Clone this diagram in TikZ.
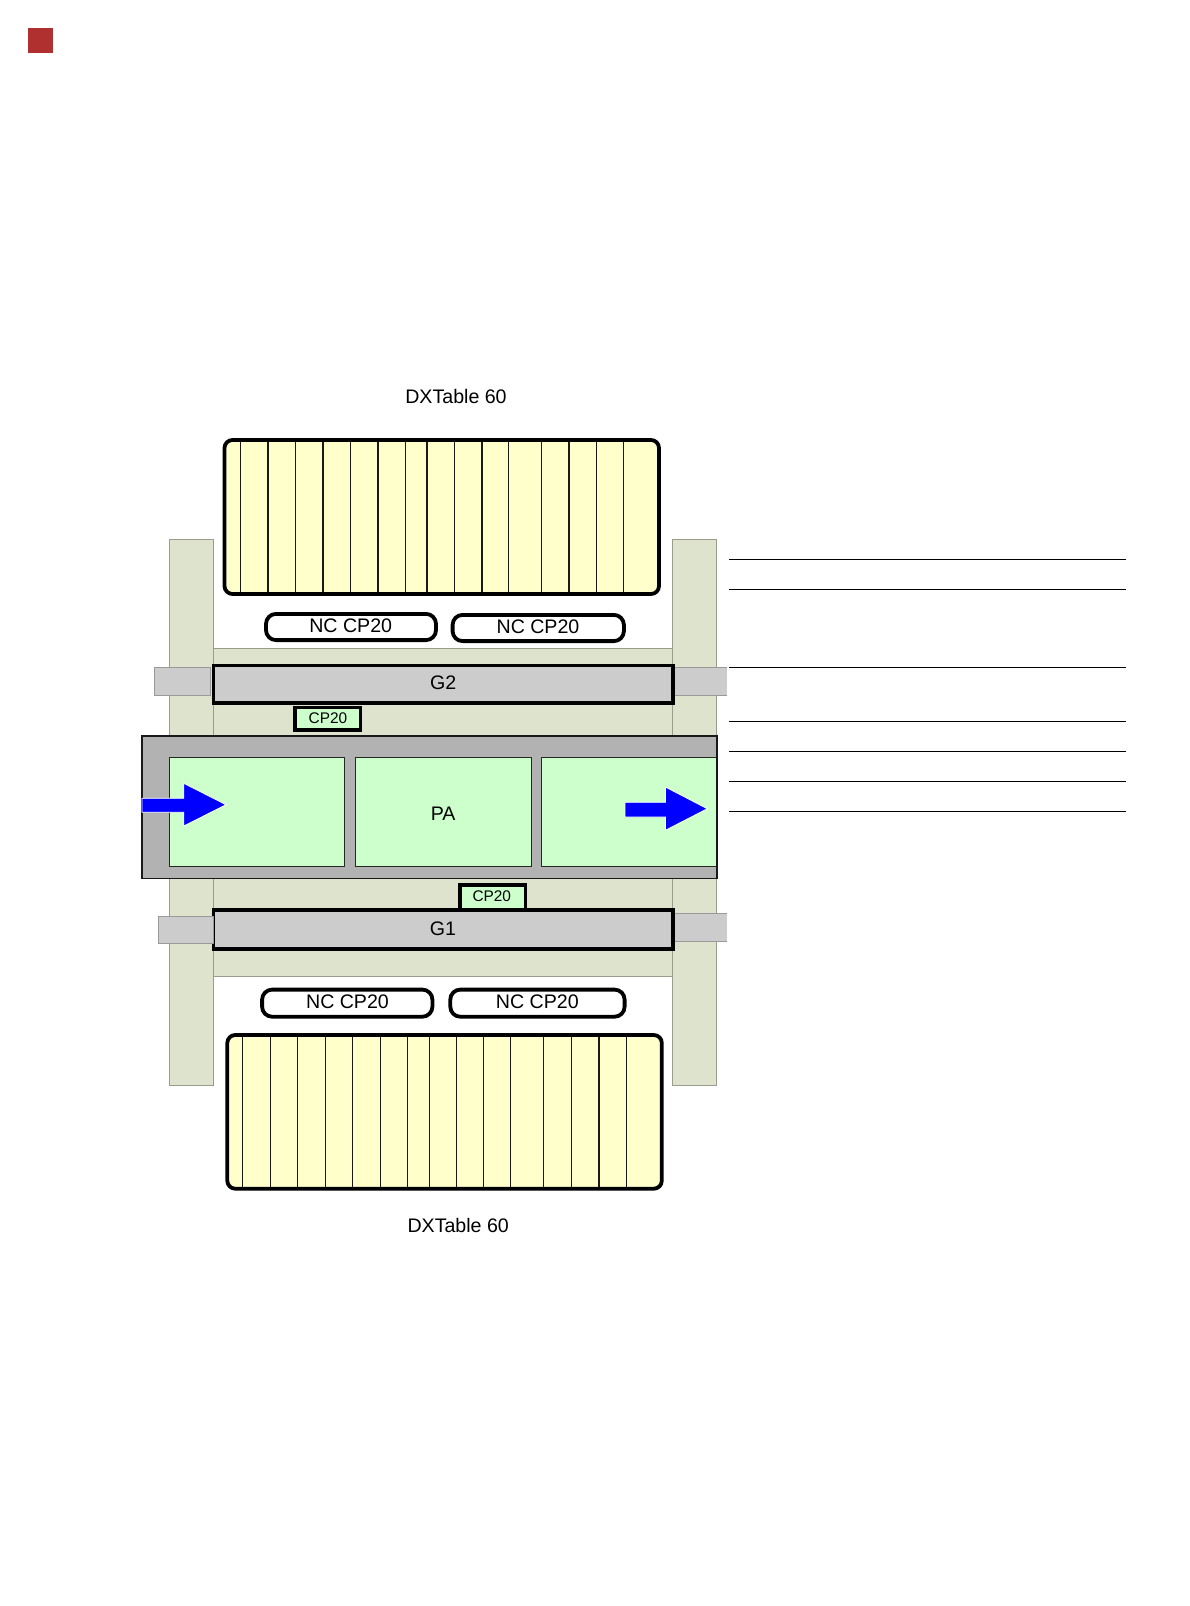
\documentclass[tikz,border=0pt]{standalone}
\usepackage{fontspec}
\setmainfont{Liberation Sans}
\definecolor{frameC}{HTML}{DDE3CC}
\definecolor{frameE}{HTML}{9A9D8C}
\definecolor{beamC}{HTML}{CCCCCC}
\definecolor{beamE}{HTML}{999999}
\definecolor{bedC}{HTML}{B2B2B2}
\definecolor{mintC}{HTML}{CCFFCC}
\definecolor{creamC}{HTML}{FFFFCC}
\definecolor{arrowC}{HTML}{0000FF}
\definecolor{redC}{HTML}{B03030}
\tikzset{
  frameshape/.style={fill=frameC,draw=frameE,line width=1pt},
  stub/.style={fill=beamC,draw=beamE,line width=0.9pt},
  stubfill/.style={fill=beamC},
  beam/.style={fill=beamC,draw=black,line width=3.8pt},
  bed/.style={fill=bedC},
  bededge/.style={draw=black!90,line width=1.6pt},
  zone/.style={fill=mintC,draw=black!85,line width=1.2pt},
  tablebox/.style={fill=creamC},
  tableedge/.style={draw=black,line width=3.8pt,rounded corners=8pt},
  divider/.style={draw=black!90,line width=1.2pt},
  ncbox/.style={fill=white,draw=black,line width=3.8pt,rounded corners=10pt},
  cpbox/.style={fill=mintC,draw=black,line width=3.6pt},
  flow/.style={fill=arrowC,draw=white,line width=0.8pt},
  leader/.style={draw=black,line width=0.9pt},
  big/.style={font=\fontsize{19.6}{22}\selectfont,inner sep=0pt,text=black},
  small/.style={font=\fontsize{15.4}{18}\selectfont,inner sep=0pt,text=black},
}
\begin{document}
\begin{tikzpicture}[x=1pt,y=-1pt]
\useasboundingbox (0,0) rectangle (1190,1606);
\fill[white] (0,0) rectangle (1190,1606);
\fill[redC] (28,28) rectangle (53,53);
% frame
\draw[frameshape] (213.8,648.3) rectangle (672.9,976.7);
\draw[frameshape] (169.1,539.3) rectangle (213.8,1085.3);
\draw[frameshape] (672.9,539.3) rectangle (716.8,1085.3);
% top table
\fill[tablebox,rounded corners=8pt] (224.5,440) rectangle (659,594);
\foreach \x in {240.3,268,295.3,323,350.2,377.9,405.2,427,454.2,481.9,508.4,541.2,568.9,596.6,623.5}
  \draw[divider] (\x,441.5) -- (\x,592.5);
\draw[tableedge] (224.5,440) rectangle (659,594);
% bottom table
\fill[tablebox,rounded corners=8pt] (227.3,1035) rectangle (661.8,1188.7);
\foreach \x in {242.7,270.4,297.7,325.3,352.6,380.3,407.6,429.3,456.6,483.5,510.8,543.6,571.3,599,626.2}
  \draw[divider] (\x,1036.5) -- (\x,1187.2);
\draw[tableedge] (227.3,1035) rectangle (661.8,1188.7);
% nc boxes
\draw[ncbox] (266,613.9) rectangle (436,640.1);
\draw[ncbox] (452.6,614.9) rectangle (623.9,641.1);
\draw[ncbox] (262.1,989.6) rectangle (432.4,1016.7);
\draw[ncbox] (450.3,989.6) rectangle (624.6,1016.7);
% G2
\draw[stub] (154.9,667.7) rectangle (210.3,695.3);
\fill[stubfill] (674,667.7) rectangle (727,695.3);
\draw[beamE,line width=0.9pt] (674,667.7) -- (727,667.7) (674,695.3) -- (727,695.3);
\draw[beam] (213.5,665.5) rectangle (673,702.8);
% G1
\draw[cpbox] (459.7,885) rectangle (525.5,912);
\fill[stubfill] (674,913.7) rectangle (727,941.3);
\draw[beamE,line width=0.9pt] (674,913.7) -- (727,913.7) (674,941.3) -- (727,941.3);
\draw[beam] (213.5,910.2) rectangle (673,949.2);
\draw[stub] (158.9,916) rectangle (213.8,943);
% CP20 top
\draw[cpbox] (295.2,707.5) rectangle (360.5,730.2);
% bed
\fill[bed] (141.9,735.7) rectangle (716.8,878.3);
\draw[zone] (169.1,757.3) rectangle (344.7,866.7);
\draw[zone] (355.8,757.3) rectangle (531.3,866.7);
\draw[zone] (716.8,757.3) -- (541.2,757.3) -- (541.2,866.7) -- (716.8,866.7) -- cycle;
\draw[bededge] (141.9,735.7) rectangle (716.8,878.3);
% arrows
\draw[flow] (141.9,798.3) -- (183.8,798.3) -- (183.8,783.3) -- (226,804.7) -- (183.8,826) -- (183.8,812.3) -- (141.9,812.3) -- cycle;
\draw[flow] (625,802.3) -- (665.4,802.3) -- (665.4,787) -- (707.3,808.7) -- (665.4,830.3) -- (665.4,817) -- (625,817) -- cycle;
% leaders
\foreach \y in {559.2,589.2,667.2,721.3,751.1,781.2,811.1}
  \draw[leader] (729,\y) -- (1125.5,\y);
% labels
\node[big] (tabletop) at (456,396.7) {DXTable 60};
\node[big] (tablebot) at (458.2,1225.7) {DXTable 60};
\node[big] (nca) at (350.7,626) {NC CP20};
\node[big] (ncb) at (538,627) {NC CP20};
\node[big] (ncc) at (347.5,1002) {NC CP20};
\node[big] (ncd) at (537.3,1002) {NC CP20};
\node[big] (gtwo) at (443.2,682.7) {G2};
\node[big] (gone) at (442.9,929) {G1};
\node[big] (pa) at (443.2,814) {PA};
\node[small] (cpa) at (327.9,718) {CP20};
\node[small] (cpb) at (491.8,896) {CP20};
\end{tikzpicture}
\end{document}
